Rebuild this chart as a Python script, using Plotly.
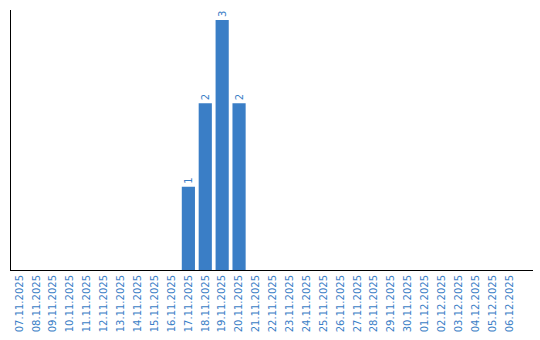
import plotly.graph_objects as go

dates = ["07.11.2025", "08.11.2025", "09.11.2025", "10.11.2025", "11.11.2025",
         "12.11.2025", "13.11.2025", "14.11.2025", "15.11.2025", "16.11.2025",
         "17.11.2025", "18.11.2025", "19.11.2025", "20.11.2025", "21.11.2025",
         "22.11.2025", "23.11.2025", "24.11.2025", "25.11.2025", "26.11.2025",
         "27.11.2025", "28.11.2025", "29.11.2025", "30.11.2025", "01.12.2025",
         "02.12.2025", "03.12.2025", "04.12.2025", "05.12.2025", "06.12.2025"]
counts = [0, 0, 0, 0, 0, 0, 0, 0, 0, 0,
          1, 2, 3, 2, 0, 0, 0, 0, 0, 0,
          0, 0, 0, 0, 0, 0, 0, 0, 0, 0]
labels = [str(v) if v else "" for v in counts]

blue = "#3a7ec6"

fig = go.Figure(go.Bar(
    x=dates, y=counts, text=labels, textposition="outside", textangle=-90,
    textfont=dict(size=10, color=blue, family="DejaVu Sans"),
    marker=dict(color=blue, line=dict(width=0)), width=0.78, cliponaxis=False,
))

fig.update_layout(
    width=540, height=340, margin=dict(l=11, r=7, t=10, b=70),
    plot_bgcolor="white", paper_bgcolor="white", showlegend=False,
    uniformtext=dict(mode=False),
)
fig.update_xaxes(type="category", range=[-0.5, 30.4], showline=True, linecolor="black",
                 linewidth=1, ticks="", tickangle=-90, showgrid=False,
                 tickfont=dict(size=10, color=blue, family="DejaVu Sans"))
fig.update_yaxes(range=[0, 3.12], showline=True, linecolor="black", linewidth=1,
                 showticklabels=False, ticks="", showgrid=False, zeroline=False)

fig.write_html("out.html")
